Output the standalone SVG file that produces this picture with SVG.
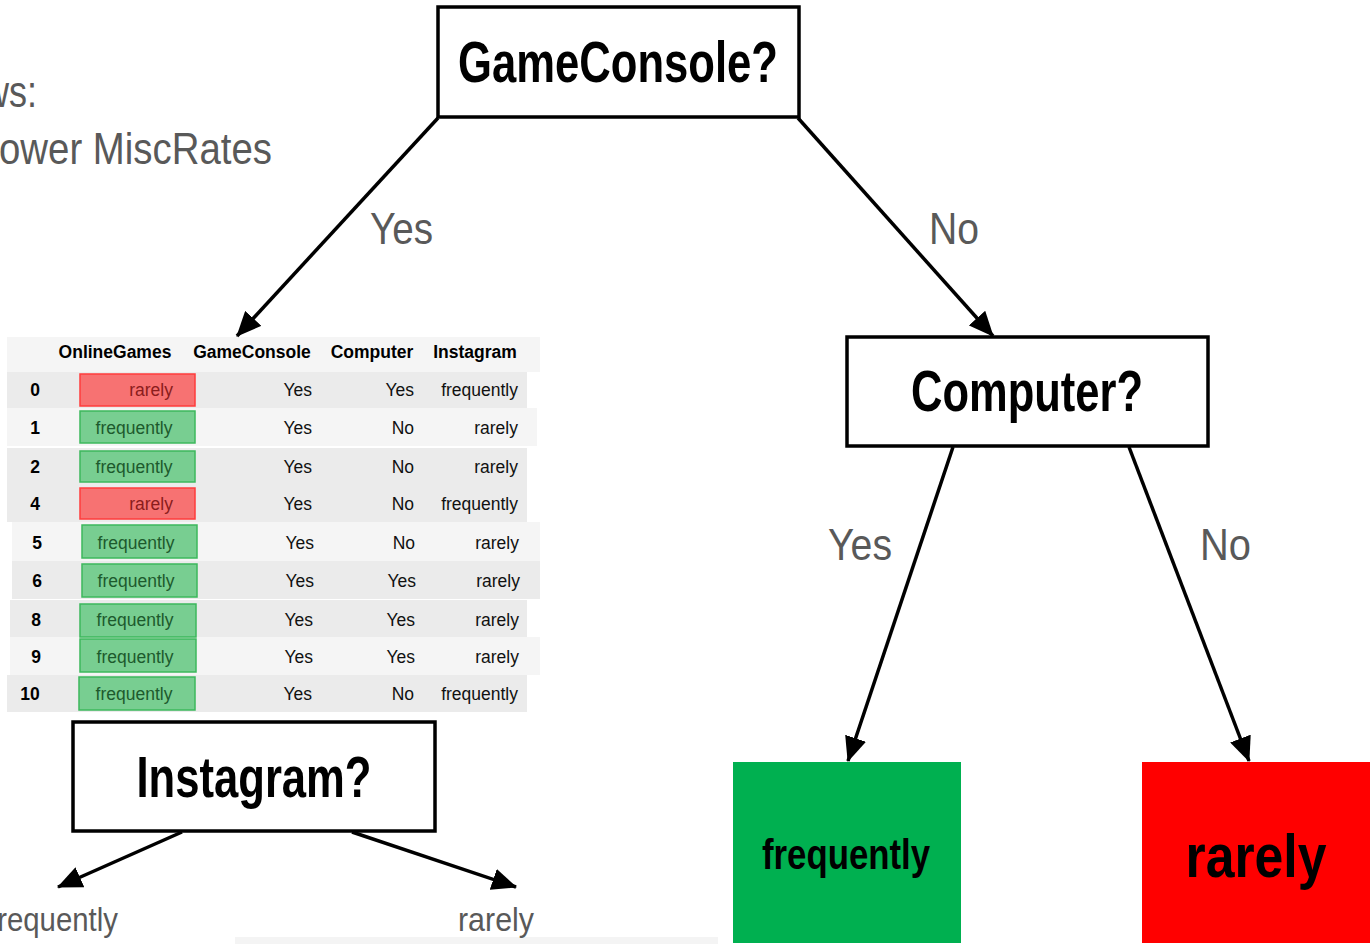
<svg xmlns="http://www.w3.org/2000/svg" width="1370" height="944" viewBox="0 0 1370 944">
<style>
.box{fill:#fff;stroke:#000;stroke-width:3.5}
.q{font-family:"Liberation Sans",Arial,sans-serif;font-weight:bold;fill:#000;text-anchor:middle}
.lbl{font-family:"Liberation Sans",Arial,sans-serif;fill:#595959}
.conn{stroke:#000;stroke-width:3.5;fill:none;marker-end:url(#ah)}
.th{font-family:"Liberation Sans",Arial,sans-serif;font-weight:bold;font-size:17.5px;fill:#000;text-anchor:middle}
.td{font-family:"Liberation Sans",Arial,sans-serif;font-size:17.5px;fill:#111;text-anchor:end}
.idx{font-family:"Liberation Sans",Arial,sans-serif;font-weight:bold;font-size:17.5px;fill:#000;text-anchor:middle}
.dk{fill:#ebebeb}.lt{fill:#f5f5f5}
.rb{fill:#f77272;stroke:#ff3c3c;stroke-width:1.5}
.gb{fill:#78ce91;stroke:#3cb85c;stroke-width:1.5}
.rt{font-family:"Liberation Sans",Arial,sans-serif;font-size:17.5px;fill:#8a1c1c;text-anchor:end}
.gt{font-family:"Liberation Sans",Arial,sans-serif;font-size:17.5px;fill:#1d5a2d;text-anchor:middle}
</style>
<defs>
<marker id="ah" markerUnits="userSpaceOnUse" markerWidth="26" markerHeight="22" refX="24" refY="11" orient="auto">
<path d="M0,0 L25,11 L0,22 Z" fill="#000"/>
</marker>
</defs>
<rect width="1370" height="944" fill="#fff"/>

<g id="intro-text">
<text class="lbl" x="-17" y="107" font-size="44" textLength="54" lengthAdjust="spacingAndGlyphs">ws:</text>
<text class="lbl" x="-1" y="164" font-size="44" textLength="273" lengthAdjust="spacingAndGlyphs">ower MiscRates</text>
</g>

<g id="bottom-strip"><rect x="235" y="937" width="483" height="7" fill="#f4f4f4"/></g>

<g id="table">
<rect x="7" y="337" width="533" height="35" class="lt"/>
<rect x="7" y="372" width="520" height="36" class="dk"/>
<rect x="7" y="408" width="530" height="38" class="lt"/>
<rect x="7" y="448" width="520" height="74" class="dk"/>
<rect x="12" y="522" width="528" height="39" class="lt"/>
<rect x="12" y="561" width="528" height="38" class="dk"/>
<rect x="10" y="600" width="517" height="37" class="dk"/>
<rect x="10" y="637" width="530" height="38" class="lt"/>
<rect x="7" y="675" width="520" height="37" class="dk"/>
<text class="th" x="115" y="358">OnlineGames</text>
<text class="th" x="252" y="358">GameConsole</text>
<text class="th" x="372" y="358">Computer</text>
<text class="th" x="475" y="358">Instagram</text>
<g id="row0"><text class="idx" x="35" y="396">0</text><rect class="rb" x="80" y="374" width="115" height="32"/><text class="rt" x="173" y="396">rarely</text><text class="td" x="312" y="396">Yes</text><text class="td" x="414" y="396">Yes</text><text class="td" x="518" y="396">frequently</text></g>
<g id="row1"><text class="idx" x="35" y="434">1</text><rect class="gb" x="80" y="411" width="115" height="32"/><text class="gt" x="134" y="434">frequently</text><text class="td" x="312" y="434">Yes</text><text class="td" x="414" y="434">No</text><text class="td" x="518" y="434">rarely</text></g>
<g id="row2"><text class="idx" x="35" y="473">2</text><rect class="gb" x="80" y="451" width="115" height="31"/><text class="gt" x="134" y="473">frequently</text><text class="td" x="312" y="473">Yes</text><text class="td" x="414" y="473">No</text><text class="td" x="518" y="473">rarely</text></g>
<g id="row4"><text class="idx" x="35" y="510">4</text><rect class="rb" x="80" y="488" width="115" height="31"/><text class="rt" x="173" y="510">rarely</text><text class="td" x="312" y="510">Yes</text><text class="td" x="414" y="510">No</text><text class="td" x="518" y="510">frequently</text></g>
<g id="row5"><text class="idx" x="37" y="549">5</text><rect class="gb" x="82" y="525" width="115" height="33"/><text class="gt" x="136" y="549">frequently</text><text class="td" x="314" y="549">Yes</text><text class="td" x="415" y="549">No</text><text class="td" x="519" y="549">rarely</text></g>
<g id="row6"><text class="idx" x="37" y="587">6</text><rect class="gb" x="82" y="564" width="115" height="33"/><text class="gt" x="136" y="587">frequently</text><text class="td" x="314" y="587">Yes</text><text class="td" x="416" y="587">Yes</text><text class="td" x="520" y="587">rarely</text></g>
<g id="row8"><text class="idx" x="36" y="626">8</text><rect class="gb" x="80" y="604" width="116" height="33"/><text class="gt" x="135" y="626">frequently</text><text class="td" x="313" y="626">Yes</text><text class="td" x="415" y="626">Yes</text><text class="td" x="519" y="626">rarely</text></g>
<g id="row9"><text class="idx" x="36" y="663">9</text><rect class="gb" x="80" y="639" width="116" height="33"/><text class="gt" x="135" y="663">frequently</text><text class="td" x="313" y="663">Yes</text><text class="td" x="415" y="663">Yes</text><text class="td" x="519" y="663">rarely</text></g>
<g id="row10"><text class="idx" x="30" y="700">10</text><rect class="gb" x="79" y="677" width="116" height="33"/><text class="gt" x="134" y="700">frequently</text><text class="td" x="312" y="700">Yes</text><text class="td" x="414" y="700">No</text><text class="td" x="518" y="700">frequently</text></g>
</g>

<g id="connectors">
<line class="conn" x1="438" y1="118" x2="237" y2="336"/>
<line class="conn" x1="798" y1="118" x2="993" y2="336"/>
<line class="conn" x1="953" y1="447" x2="848" y2="761"/>
<line class="conn" x1="1129" y1="447" x2="1249" y2="761"/>
<line class="conn" x1="182" y1="832" x2="58" y2="887"/>
<line class="conn" x1="352" y1="832" x2="516" y2="887"/>
<text class="lbl" x="370" y="244" font-size="44" textLength="63" lengthAdjust="spacingAndGlyphs">Yes</text>
<text class="lbl" x="929" y="244" font-size="44" textLength="50" lengthAdjust="spacingAndGlyphs">No</text>
<text class="lbl" x="828" y="560" font-size="44" textLength="64" lengthAdjust="spacingAndGlyphs">Yes</text>
<text class="lbl" x="1200" y="560" font-size="44" textLength="51" lengthAdjust="spacingAndGlyphs">No</text>
<text class="lbl" x="-11" y="931" font-size="33" textLength="129" lengthAdjust="spacingAndGlyphs">frequently</text>
<text class="lbl" x="458" y="931" font-size="33" textLength="76" lengthAdjust="spacingAndGlyphs">rarely</text>
</g>

<g id="node-gameconsole">
<rect class="box" x="438" y="7" width="361" height="110"/>
<text class="q" x="618" y="82" font-size="58" textLength="320" lengthAdjust="spacingAndGlyphs">GameConsole?</text>
</g>
<g id="node-computer">
<rect class="box" x="847" y="337" width="361" height="109"/>
<text class="q" x="1027" y="411" font-size="58" textLength="232" lengthAdjust="spacingAndGlyphs">Computer?</text>
</g>
<g id="node-instagram">
<rect class="box" x="73" y="722" width="362" height="109"/>
<text class="q" x="254" y="797" font-size="58" textLength="235" lengthAdjust="spacingAndGlyphs">Instagram?</text>
</g>
<g id="leaf-frequently">
<rect x="733" y="762" width="228" height="181" fill="#00b050"/>
<text class="q" x="846" y="869" font-size="43" textLength="168" lengthAdjust="spacingAndGlyphs">frequently</text>
</g>
<g id="leaf-rarely">
<rect x="1142" y="762" width="228" height="181" fill="#ff0000"/>
<text class="q" x="1256" y="877" font-size="62" textLength="141" lengthAdjust="spacingAndGlyphs">rarely</text>
</g>
</svg>
